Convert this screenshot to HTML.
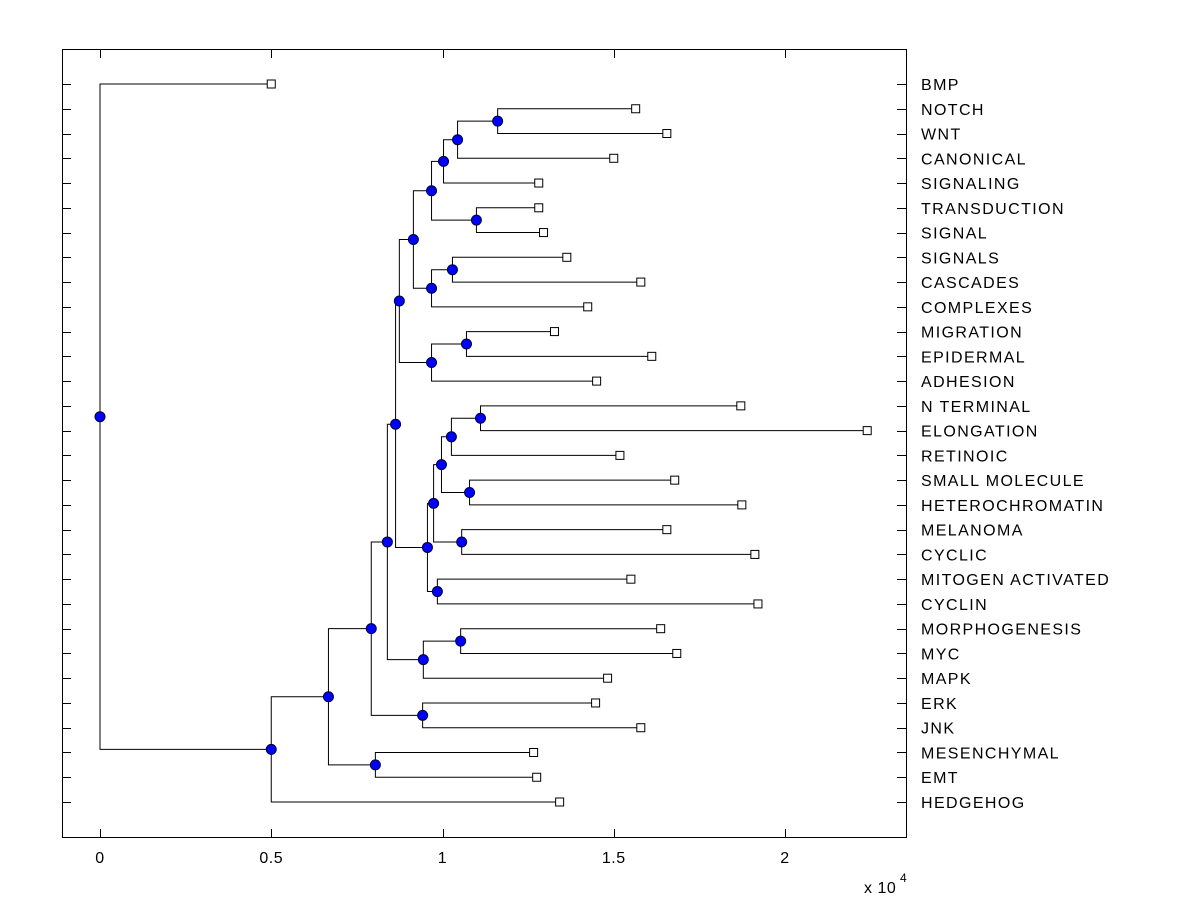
<!DOCTYPE html>
<html><head><meta charset="utf-8"><style>
html,body{margin:0;padding:0;background:#fff;}
svg{display:block;font-family:"Liberation Sans",Arial,sans-serif;}
</style></head><body>
<svg id="chart" width="1200" height="900" viewBox="0 0 1200 900" xmlns="http://www.w3.org/2000/svg">
<rect x="0" y="0" width="1200" height="900" fill="#fff"/>
<rect x="62.5" y="49.5" width="844" height="788" fill="none" stroke="#000" stroke-width="1"/>
<g id="ticks"></g>
<g id="links"></g>
<g id="marks"></g>
<g id="labels"></g>
<text x="864" y="893" font-size="16" letter-spacing="0.5">x 10</text>
<text x="900" y="882" font-size="12">4</text>
</svg>
<script>
const leafLabels = ["BMP","NOTCH","WNT","CANONICAL","SIGNALING","TRANSDUCTION","SIGNAL","SIGNALS","CASCADES","COMPLEXES","MIGRATION","EPIDERMAL","ADHESION","N TERMINAL","ELONGATION","RETINOIC","SMALL MOLECULE","HETEROCHROMATIN","MELANOMA","CYCLIC","MITOGEN ACTIVATED","CYCLIN","MORPHOGENESIS","MYC","MAPK","ERK","JNK","MESENCHYMAL","EMT","HEDGEHOG"];
const leafValues = [0.500,1.564,1.655,1.500,1.281,1.281,1.295,1.363,1.579,1.424,1.327,1.611,1.450,1.871,2.240,1.518,1.678,1.874,1.655,1.912,1.550,1.921,1.637,1.684,1.482,1.447,1.579,1.266,1.275,1.342];
const xTicks = [0,0.5,1,1.5,2];
const xTickLabels = ["0","0.5","1","1.5","2"];
// tree: [nodeValue, child, child]; leaves are indices into leafLabels
const tree = [0, 0,
 [0.500,
  [0.667,
   [0.792,
    [0.839,
     [0.863,
      [0.874,
       [0.915,
        [0.968,
         [1.003, [1.044, [1.161,1,2], 3], 4],
         [1.099,5,6]],
        [0.968, [1.029,7,8], 9]],
       [0.968, [1.070,10,11], 12]],
      [0.956,
       [0.974,
        [0.997,
         [1.026, [1.111,13,14], 15],
         [1.079,16,17]],
        [1.056,18,19]],
       [0.985,20,21]]],
     [0.944, [1.053,22,23], 24]],
    [0.942,25,26]],
   [0.804,27,28]],
  29]];

const NS="http://www.w3.org/2000/svg";
const X0=100, XS=342.5, Y0=84, YS=(802-84)/29;
const xs=v=>X0+v*XS, ys=i=>Y0+i*YS;
function el(tag,attrs,parent){const e=document.createElementNS(NS,tag);for(const k in attrs)e.setAttribute(k,attrs[k]);document.getElementById(parent).appendChild(e);return e;}

for(let i=0;i<leafLabels.length;i++){
  const y=Math.round(ys(i))+0.5;
  const t1=el('line',{x1:62,x2:71,y1:y,y2:y,stroke:'#000'},'ticks');
  
  
  const t2=el('line',{x1:897,x2:906,y1:y,y2:y,stroke:'#000'},'ticks');
  
  
  const lb=el('text',{x:921,y:ys(i)+6,'font-size':16,'letter-spacing':1.4},'labels');
  lb.textContent=leafLabels[i];
  
  
}
xTicks.forEach((v,i)=>{
  const x=Math.round(xs(v))+0.5;
  const a=el('line',{x1:x,x2:x,y1:829,y2:837,stroke:'#000'},'ticks');
  
  
  const b=el('line',{x1:x,x2:x,y1:50,y2:58,stroke:'#000'},'ticks');
  
  
  const t=el('text',{x:xs(v),y:863,'font-size':16,'text-anchor':'middle','letter-spacing':0.5},'labels');
  t.textContent=xTickLabels[i];
  
  
});

function draw(n){
  if(typeof n==='number'){
    const x=xs(leafValues[n]), y=ys(n);
    const s=el('rect',{x:x-4,y:y-4,width:8,height:8,fill:'#fff',stroke:'#000','stroke-width':1},'marks');
    
    
    return {x,y};
  }
  const px=xs(n[0]);
  const a=draw(n[1]), b=draw(n[2]);
  const py=(a.y+b.y)/2;
  const p=el('path',{d:`M${a.x} ${a.y}H${px}V${b.y}H${b.x}`,fill:'none',stroke:'#000','stroke-width':1},'links');
  
  
  const c=el('circle',{cx:px,cy:py,r:5,fill:'#0000ff',stroke:'#000033','stroke-width':1},'marks');
  
  
  return {x:px,y:py};
}
draw(tree);
</script>
</body></html>
